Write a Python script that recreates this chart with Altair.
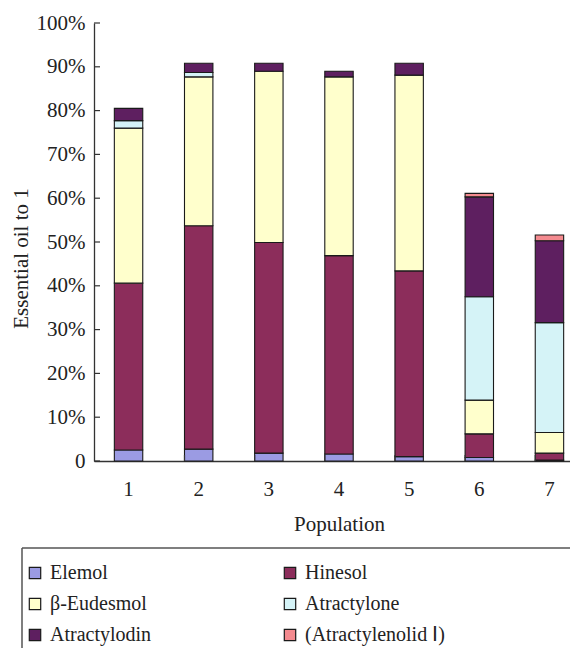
import altair as alt
import pandas as pd

populations = ["1", "2", "3", "4", "5", "6", "7"]
components = ["Elemol", "Hinesol", "β-Eudesmol", "Atractylone", "Atractylodin", "(Atractylenolid Ⅰ)"]
colors = ["#9b9be3", "#8c2d5b", "#ffffcc", "#d5f3f7", "#5e1f60", "#f48a8f"]

elemol = [2.5, 2.7, 1.8, 1.6, 1.0, 0.8, 0.2]
hinesol = [38.1, 51.0, 48.1, 45.3, 42.4, 5.4, 1.6]
eudesmol = [35.4, 34.0, 39.1, 40.8, 44.7, 7.7, 4.7]
atractylone = [1.7, 1.0, 0.0, 0.0, 0.0, 23.6, 25.1]
atractylodin = [2.8, 2.1, 1.8, 1.3, 2.7, 22.8, 18.7]
atractylenolid = [0.0, 0.0, 0.0, 0.0, 0.0, 0.8, 1.3]

y_ticks = [0.0, 0.1, 0.2, 0.3, 0.4, 0.5, 0.6, 0.7, 0.8, 0.9, 1.0]

series = [elemol, hinesol, eudesmol, atractylone, atractylodin, atractylenolid]
rows = []
for ci, (name, vals) in enumerate(zip(components, series)):
    for p, v in zip(populations, vals):
        if v > 0:
            rows.append({"pop": p, "comp": name, "order": ci, "val": v / 100.0})
df = pd.DataFrame(rows)

# legend lists entries column by column; reorder so it reads row by row
legend_order = [0, 2, 4, 1, 3, 5]
leg_domain = [components[i] for i in legend_order]
leg_range = [colors[i] for i in legend_order]

W, H = 476, 438
FONT = "Liberation Serif, Times New Roman, serif"

xscale = alt.Scale(domain=populations, range=[0, 490], paddingInner=0.595, paddingOuter=0.29)

bars = alt.Chart(df).mark_bar(stroke="#1a1a1a", strokeWidth=1.1).encode(
    x=alt.X("pop:N", scale=xscale, sort=populations,
            axis=alt.Axis(title="Population", labelAngle=0, ticks=False,
                          labelPadding=17, titlePadding=14)),
    y=alt.Y("val:Q", stack="zero", scale=alt.Scale(domain=[0, 1], nice=False),
            axis=alt.Axis(title="Essential oil to 1", values=y_ticks, ticks=False,
                          labelExpr="datum.value == 0 ? '0' : format(datum.value, '.0%')",
                          labelPadding=9, titlePadding=5, titleY=235, grid=False)),
    color=alt.Color("comp:N", scale=alt.Scale(domain=leg_domain, range=leg_range),
                    legend=alt.Legend(title=None, orient="none", legendX=-69, legendY=540,
                                      padding=0, columns=2, columnPadding=90, rowPadding=11,
                                      gridAlign="all", symbolType="square", symbolSize=130,
                                      symbolStrokeColor="#1a1a1a", symbolStrokeWidth=1.2,
                                      labelFont=FONT, labelFontSize=20, labelColor="#222",
                                      labelOffset=5, labelLimit=300)),
    order=alt.Order("order:Q", sort="ascending"),
)

ytick = alt.Chart(pd.DataFrame({"v": y_ticks})).mark_rule(color="#333", strokeWidth=1.2).encode(
    y=alt.Y("v:Q"),
    x=alt.value(0),
    x2=alt.value(6),
)

xtick = alt.Chart(pd.DataFrame({"pop": populations[1:]})).mark_rule(color="#333", strokeWidth=1.2).encode(
    x=alt.X("pop:N", bandPosition=0),
    y=alt.value(H),
    y2=alt.value(H - 6),
)

# legend frame: top and left edges (right and bottom edges run past the page)
frame_top = alt.Chart(alt.Data(values=[{"a": 1}])).mark_rule(color="#555", strokeWidth=1.5).encode(
    x=alt.value(-72),
    x2=alt.value(W + 20),
    y=alt.value(525),
)
frame_left = alt.Chart(alt.Data(values=[{"a": 1}])).mark_rule(color="#555", strokeWidth=1.5).encode(
    x=alt.value(-72),
    y=alt.value(525),
    y2=alt.value(H + 230),
)

chart = alt.layer(frame_top, frame_left, bars, ytick, xtick).properties(
    width=W,
    height=H,
    autosize=alt.AutoSizeParams(type="none"),
    padding={"left": 86, "top": 15, "right": 0, "bottom": 187},
).configure_view(stroke=None).configure_axis(
    labelFont=FONT, titleFont=FONT, labelFontSize=21, titleFontSize=21,
    titleFontWeight="normal", labelColor="#222", titleColor="#222",
    domainColor="#333", domainWidth=1.3,
)

chart.save("out.html", embed_options={"renderer": "svg", "actions": False})
